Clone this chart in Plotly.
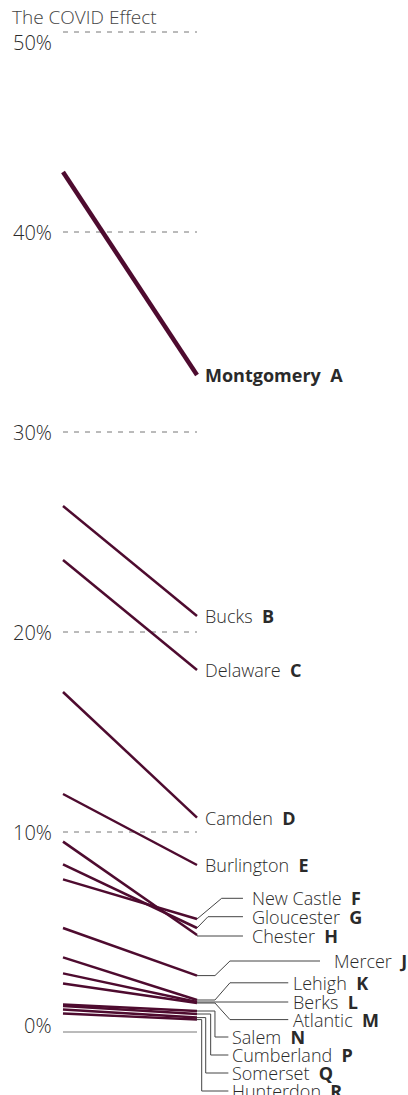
import plotly.graph_objects as go

# ---------------- data ----------------
counties = ["Montgomery", "Bucks", "Delaware", "Camden", "Burlington",
            "New Castle", "Gloucester", "Chester", "Mercer", "Lehigh",
            "Berks", "Atlantic", "Salem", "Cumberland", "Somerset", "Hunterdon"]
letters = ["A", "B", "C", "D", "E", "F", "G", "H", "J", "K",
           "L", "M", "N", "P", "Q", "R"]
pct_before = [43.0, 26.3, 23.6, 17.0, 11.9, 7.63, 8.38, 9.52, 5.2, 3.73,
              2.93, 2.43, 1.38, 1.3, 1.13, 0.93]
pct_after = [32.85, 20.8, 18.1, 10.72, 8.35, 5.65, 5.2, 4.85, 2.82, 1.6,
             1.5, 1.45, 1.05, 0.9, 0.72, 0.62]
tick_values = [0, 10, 20, 30, 40, 50]
tick_labels = ["0%", "10%", "20%", "30%", "40%", "50%"]
title_text = "The COVID Effect"

# ---------------- layout helpers (positions / styles) ----------------
LINE_COLOR = "#4e0b2f"
FONT = "Open Sans"
W, H = 408, 1095
X_RANGE = [-63 / 134, 345 / 134]
Y_RANGE = [-3.15, 51.6]

# label placement (y in axis units; None -> at line end)
label_y = [None, None, None, None, None,
           6.685, 5.765, 4.8, 3.55, 2.46, 1.5, 0.62, -0.25, -1.15, -2.05, -2.95]
label_x = [1.06] * 5 + [1.408] * 3 + [2.567] + [1.719] * 3 + [1.259] * 4
label_anchor = ["left"] * 8 + ["right"] + ["left"] * 7
# leader path: (x of first bend at end level, x of second bend at label level, x where leader stops)
leader_bends = [None] * 5 + [
    (1.0, 1.184, 1.343), (1.0, 1.082, 1.343), (1.0, 1.0, 1.343),
    (1.134, 1.246, 1.918),
    (1.134, 1.246, 1.681), (1.134, 1.134, 1.681), (1.134, 1.246, 1.681),
    (1.134, 1.134, 1.234), (1.102, 1.102, 1.234), (1.065, 1.065, 1.234), (1.035, 1.035, 1.234),
]
tick_shift = [7, 0, 0, 0, 0, -10]

fig = go.Figure()

# gridlines (dashed) and baseline
for tv in tick_values:
    fig.add_trace(go.Scatter(
        x=[0, 1], y=[tv, tv], mode="lines", hoverinfo="skip", showlegend=False,
        line=dict(color="#777777", width=1,
                  dash="solid" if tv == 0 else "5px,6px")))

# leader lines
for i, bend in enumerate(leader_bends):
    if bend is None:
        continue
    xb1, xb2, xe = bend
    ly = label_y[i]
    ye = pct_after[i]
    fig.add_trace(go.Scatter(
        x=[1, xb1, xb2, xe], y=[ye, ye, ly, ly], mode="lines",
        hoverinfo="skip", showlegend=False,
        line=dict(color="#444444", width=1)))

# slope lines (draw biggest last)
for i in range(len(counties) - 1, -1, -1):
    fig.add_trace(go.Scatter(
        x=[0, 1], y=[pct_before[i], pct_after[i]], mode="lines",
        name=counties[i], showlegend=False,
        line=dict(color=LINE_COLOR, width=4.5 if i == 0 else 2.5)))

annotations = []
# labels
for i, name in enumerate(counties):
    ly = label_y[i] if label_y[i] is not None else pct_after[i]
    if i == 0:
        txt = f"<b>{name}\u00a0\u00a0{letters[i]}</b>"
    else:
        txt = f"{name}\u00a0\u00a0<b>{letters[i]}</b>"
    annotations.append(dict(
        x=label_x[i], y=ly, xref="x", yref="y", text=txt, showarrow=False,
        xanchor=label_anchor[i], yanchor="middle", borderpad=0, borderwidth=0,
        font=dict(family=FONT, size=18, color="#2a2a2a", weight=300)))

# tick labels
for tv, tl, sh in zip(tick_values, tick_labels, tick_shift):
    annotations.append(dict(
        x=-0.082, y=tv, xref="x", yref="y", text=tl, showarrow=False,
        xanchor="right", yanchor="middle", yshift=sh, borderpad=0, borderwidth=0,
        font=dict(family=FONT, size=20, color="#2a2a2a", weight=300)))

# title
annotations.append(dict(
    x=-0.3806, y=50.75, xref="x", yref="y", text=title_text, showarrow=False,
    xanchor="left", yanchor="middle", borderpad=0, borderwidth=0,
    font=dict(family=FONT, size=19, color="#444444", weight=300)))

fig.update_layout(
    width=W, height=H,
    margin=dict(l=0, r=0, t=0, b=0),
    paper_bgcolor="white", plot_bgcolor="white",
    xaxis=dict(range=X_RANGE, visible=False, fixedrange=True),
    yaxis=dict(range=Y_RANGE, visible=False, fixedrange=True),
    annotations=annotations,
    hovermode=False,
)

fig.write_html("out.html", config={"displayModeBar": False},
               post_script="document.body.style.margin='0px';")
